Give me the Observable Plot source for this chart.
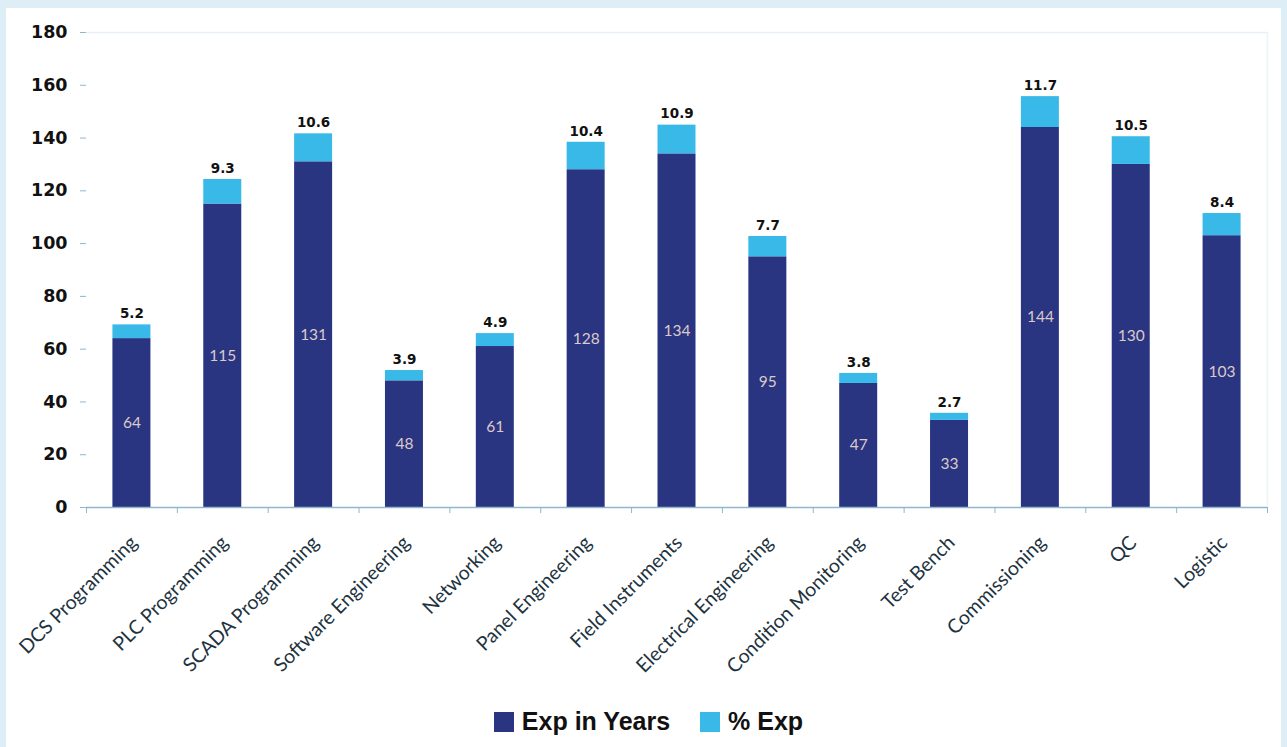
<!DOCTYPE html>
<html>
<head>
<meta charset="utf-8">
<script src="https://cdn.jsdelivr.net/npm/d3@7"></script>
<script src="https://cdn.jsdelivr.net/npm/@observablehq/plot@0.6"></script>
<style>
  html, body { margin: 0; padding: 0; background: #ddeef7; }
  #panel { position: absolute; left: 6px; top: 8px; width: 1275px; height: 745px; background: #ffffff; }
  #legend { position: absolute; left: 5px; top: 699px; width: 1275px; display: flex; justify-content: center; align-items: center; font-family: "Liberation Sans", Arial, sans-serif; font-weight: bold; font-size: 25px; color: #111; }
  .sw { display: inline-block; width: 20px; height: 20px; margin-right: 8px; }
  .item { display: flex; align-items: center; margin: 0 15px; }
</style>
</head>
<body>
<div id="panel">
  <div id="chart"></div>
  <div id="legend"></div>
</div>
<script>
const categories = ["DCS Programming", "PLC Programming", "SCADA Programming", "Software Engineering", "Networking", "Panel Engineering", "Field Instruments", "Electrical Engineering", "Condition Monitoring", "Test Bench", "Commissioning", "QC", "Logistic"];
const expYears = [64, 115, 131, 48, 61, 128, 134, 95, 47, 33, 144, 130, 103];
const pctExp = [5.2, 9.3, 10.6, 3.9, 4.9, 10.4, 10.9, 7.7, 3.8, 2.7, 11.7, 10.5, 8.4];
const yTicks = [0, 20, 40, 60, 80, 100, 120, 140, 160, 180];
const seriesNames = ["Exp in Years", "% Exp"];
const seriesColors = ["#293581", "#39b9e7"];

const rows = categories.map((c, i) => ({cat: c, exp: expYears[i], pct: pctExp[i], total: expYears[i] + pctExp[i]}));

const W = 1275, H = 684;
const mL = 80, mR = 14;
const step = (W - mL - mR) / categories.length;
const barW = 38;
const inset = (step - barW) / 2;

const chart = Plot.plot({
  width: W, height: H,
  marginLeft: mL, marginRight: mR, marginTop: 24, marginBottom: H - 499,
  style: {background: "transparent", overflow: "visible"},
  x: {domain: categories, padding: 0, round: false, axis: null},
  y: {domain: [0, 180], axis: null},
  marks: [
    Plot.ruleY([180], {stroke: "#e6eff5", strokeWidth: 1.5}),
    Plot.ruleX([categories[categories.length - 1]], {dx: step / 2, y1: 0, y2: 180, stroke: "#eef3f6", strokeWidth: 1.5}),
    Plot.barY(rows, {x: "cat", y1: 0, y2: "exp", fill: seriesColors[0], insetLeft: inset, insetRight: inset}),
    Plot.barY(rows, {x: "cat", y1: "exp", y2: "total", fill: seriesColors[1], insetLeft: inset, insetRight: inset}),
    Plot.axisY({ticks: yTicks, tickSize: 6, tickPadding: 13, stroke: "#8fb6cc", fontSize: 17.5, fontWeight: "bold", fill: "#111", fontFamily: "DejaVu Sans, sans-serif", label: null}),
    Plot.ruleY([0], {stroke: "#8fb6cc", strokeWidth: 1.5}),
    Plot.axisX({tickSize: 6, tickFormat: () => "", dx: -step / 2, stroke: "#8fb6cc", label: null}),
    Plot.axisX({ticks: [categories[categories.length - 1]], tickSize: 6, tickFormat: () => "", dx: step / 2, stroke: "#8fb6cc", label: null}),
    Plot.text(categories, {x: d => d, y: 0, rotate: -45, textAnchor: "end", dx: 2, dy: 32, fontSize: 19.5, fill: "#1d3340", fontFamily: "Lato, Open Sans, sans-serif"}),
    Plot.text(rows, {x: "cat", y: d => d.exp / 2, text: d => String(d.exp), fill: "#dccaca", fontSize: 15.5, fontFamily: "Lato, Open Sans, sans-serif"}),
    Plot.text(rows, {x: "cat", y: "total", text: d => d.pct.toFixed(1), dy: -11, fill: "#111", fontSize: 13.5, fontWeight: "bold", fontFamily: "DejaVu Sans, sans-serif"})
  ]
});
document.getElementById("chart").appendChild(chart);

const legend = document.getElementById("legend");
seriesNames.forEach((name, i) => {
  const item = document.createElement("div");
  item.className = "item";
  const sw = document.createElement("span");
  sw.className = "sw";
  sw.style.background = seriesColors[i];
  item.appendChild(sw);
  const t = document.createElement("span");
  t.textContent = name;
  item.appendChild(t);
  legend.appendChild(item);
});
</script>
</body>
</html>
